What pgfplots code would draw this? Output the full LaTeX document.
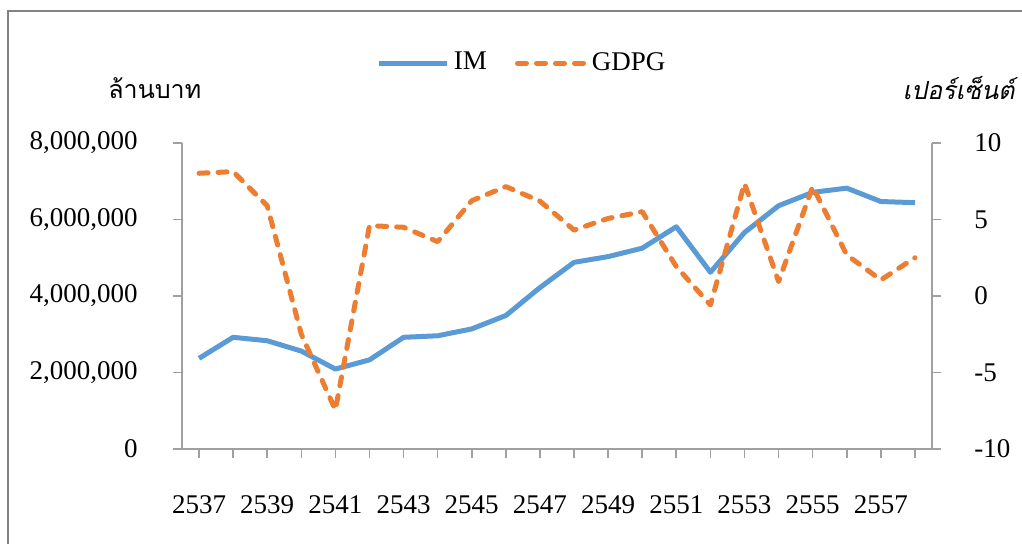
\documentclass[border=0pt]{standalone}
\usepackage{pgfplots}
\pgfplotsset{compat=1.18}
\usepackage{fontspec}
\setmainfont{Liberation Serif}
\newfontfamily\thaifont[Script=Thai]{Loma}
\newfontfamily\thaiit[Script=Thai, FakeSlant=0.2]{Loma}
\definecolor{imblue}{RGB}{91,155,213}
\definecolor{gdorange}{RGB}{237,125,49}
\definecolor{axgray}{RGB}{160,160,160}
\definecolor{framegray}{RGB}{130,130,130}

\pgfplotstableread{
year im gdpg
2537 2370000 8.02
2538 2920000 8.13
2539 2830000 5.90
2540 2560000 -2.50
2541 2090000 -7.45
2542 2330000 4.60
2543 2920000 4.49
2544 2960000 3.55
2545 3140000 6.23
2546 3490000 7.15
2547 4220000 6.20
2548 4880000 4.31
2549 5030000 5.07
2550 5250000 5.51
2551 5810000 1.92
2552 4620000 -0.59
2553 5660000 7.36
2554 6360000 0.94
2555 6710000 7.15
2556 6820000 2.68
2557 6470000 1.05
2558 6440000 2.50
}\datatable

\begin{document}
\fontsize{13.5}{15}\selectfont
\begin{tikzpicture}
\pgfplotsset{
  every axis/.append style={
    scale only axis, width=375pt, height=153pt,
    xmin=2536.5, xmax=2558.5,
    font=\fontsize{13.5}{15}\selectfont,
    /pgf/number format/assume math mode=true,
    tick align=outside,
    major tick length=4.5pt,
    every tick/.style={axgray, line width=0.8pt},
    axis line style={axgray, line width=0.8pt},
  },
}
\begin{axis}[
  at={(0pt,0pt)}, anchor=south west,
  axis x line*=bottom, axis y line*=left,
  ymin=0, ymax=8000000,
  ytick={0,2000000,4000000,6000000,8000000},
  scaled y ticks=false,
  yticklabel style={anchor=east, xshift=-13pt, /pgf/number format/fixed, /pgf/number format/1000 sep={,}},
  xtick={2537,...,2558},
  xticklabels={2537,,2539,,2541,,2543,,2545,,2547,,2549,,2551,,2553,,2555,,2557,},
  xticklabel style={anchor=base, yshift=-28pt},
  legend style={at={(0.455,1.261)}, anchor=center, draw=none, fill=none,
    legend columns=2, /tikz/every even column/.append style={column sep=12pt},
    font=\fontsize{13.5}{15}\selectfont},
  legend cell align=left,
  legend image code/.code={\draw[#1] (0pt,0pt) -- (34pt,0pt);},
]
\addplot[imblue, line width=2.5pt, line join=round] table[x=year, y=im] {\datatable};
\addlegendentry{IM}
\addlegendimage{gdorange, line width=2.5pt, line cap=round, dash pattern=on 4.5pt off 5pt}
\addlegendentry{GDPG}
\end{axis}
\begin{axis}[
  at={(0pt,0pt)}, anchor=south west,
  axis x line=none, axis y line*=right,
  ymin=-10, ymax=10,
  ytick={-10,-5,0,5,10},
  yticklabel style={anchor=west, xshift=12pt},
]
\addplot[gdorange, line width=2.5pt, line cap=round, line join=round, dash pattern=on 4.5pt off 5pt] table[x=year, y=gdpg] {\datatable};
\end{axis}
\node[anchor=west, inner sep=0pt, font=\thaifont\fontsize{12.5}{15}\selectfont] at (-37pt,180.5pt) {ล้านบาท};
\node[anchor=east, inner sep=0pt, font=\thaiit\fontsize{12.5}{15}\selectfont] at (416.5pt,180.5pt) {เปอร์เซ็นต์};
\draw[framegray, line width=0.8pt] (-87pt,-60pt) -- (-87pt,219pt) -- (430pt,219pt);
\pgfresetboundingbox
\useasboundingbox (-91pt,-47.5pt) rectangle (420pt,224.5pt);
\end{tikzpicture}
\end{document}
